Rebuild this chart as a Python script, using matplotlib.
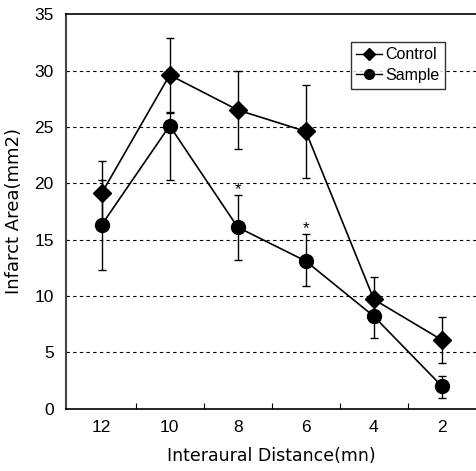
import matplotlib
matplotlib.use("Agg")
import matplotlib.pyplot as plt
from matplotlib.lines import Line2D
import numpy as np

plt.rcParams['font.family'] = ['Liberation Sans', 'DejaVu Sans']

categories = ["12", "10", "8", "6", "4", "2"]
control = [19.1, 29.6, 26.5, 24.6, 9.7, 6.1]
control_err = [2.9, 3.3, 3.5, 4.1, 2.0, 2.0]
sample = [16.3, 25.1, 16.1, 13.1, 8.2, 2.0]
sample_err_low = [4.0, 4.8, 2.9, 2.2, 1.9, 1.0]
sample_err_high = [4.0, 1.1, 2.9, 2.4, 1.9, 0.9]
star_idx = [2, 3]

fig = plt.figure(figsize=(4.76, 4.71), dpi=100)
ax = fig.add_axes([0.139, 0.132, 0.861, 0.838])
x = np.arange(len(categories))

ax.errorbar(x, control, yerr=control_err, color='black', marker='D', markersize=9,
            linewidth=1.2, elinewidth=1.0, capsize=3, capthick=1.0, zorder=3)
ax.errorbar(x, sample, yerr=[sample_err_low, sample_err_high], color='black', marker='o',
            markersize=10, linewidth=1.2, elinewidth=1.0, capsize=3, capthick=1.0, zorder=3)

for i in star_idx:
    ax.text(x[i], sample[i] + sample_err_high[i] - 0.2, '*', ha='center', va='bottom', fontsize=12)

ax.set_xlim(-0.52, 5.5)
ax.set_ylim(0, 35)
ax.set_yticks(range(0, 36, 5))
ax.set_xticks(x)
ax.set_xticklabels(categories)
ax.set_xticks(np.arange(0.5, 5.5, 1), minor=True)
ax.tick_params(axis='x', which='major', length=0, pad=8, labelsize=12.5)
ax.tick_params(axis='x', which='minor', direction='in', length=4, width=0.8)
ax.tick_params(axis='y', length=0, pad=9, labelsize=12.5)

for yv in range(5, 35, 5):
    ax.axhline(yv, color='black', linestyle=(0, (3, 3)), linewidth=0.8, zorder=1)

ax.spines['right'].set_visible(False)
ax.spines['left'].set_linewidth(1.5)
ax.spines['left'].set_color('#444444')
ax.spines['bottom'].set_linewidth(1.2)
ax.spines['top'].set_linewidth(1.2)

ax.set_xlabel('Interaural Distance(mn)', fontsize=12.5, labelpad=9, family=['DejaVu Sans'])
ax.set_ylabel('Infarct Area(mm2)', fontsize=13, labelpad=8, family=['DejaVu Sans'])

handles = [Line2D([0], [0], color='black', marker='D', markersize=6, linewidth=1.0),
           Line2D([0], [0], color='black', marker='o', markersize=7, linewidth=1.0)]
leg = ax.legend(handles, ['Control', 'Sample'], loc='upper left', bbox_to_anchor=(0.694, 0.93),
                frameon=True, fancybox=False, edgecolor='black', fontsize=11.5,
                handlelength=1.6, borderpad=0.35, labelspacing=0.35, handletextpad=0.2,
                borderaxespad=0)
leg.get_frame().set_linewidth(1.0)

fig.savefig('out.png', dpi=100)
